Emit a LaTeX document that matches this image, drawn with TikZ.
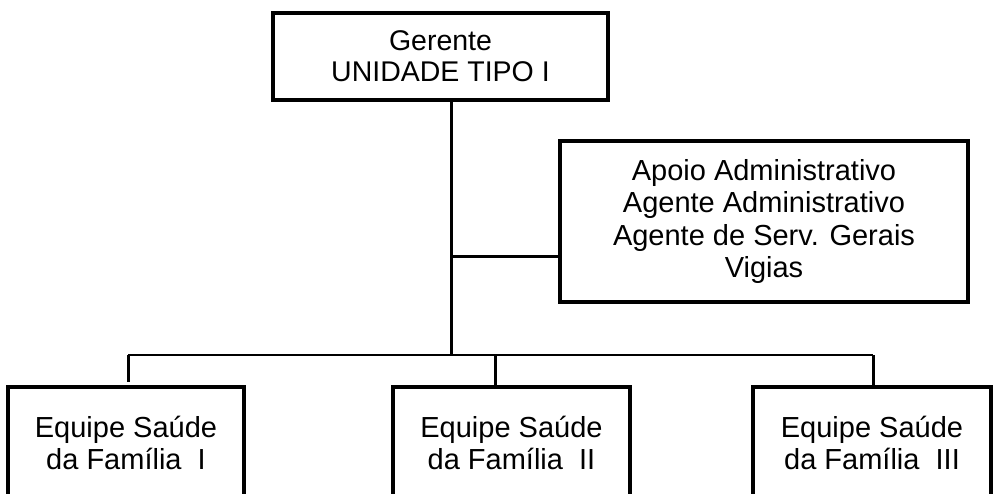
\documentclass[tikz,border=0pt]{standalone}
\usepackage{fontspec}
\setmainfont{Liberation Sans}
\tikzset{
  caixa/.style={draw, line width=4pt, rectangle, align=center, inner sep=0pt,
    font=\fontsize{29}{32.5}\selectfont},
  ligacao/.style={line width=3pt},
  barra/.style={line width=2pt}
}
\begin{document}
\begin{tikzpicture}[x=1pt,y=-1pt]
      \useasboundingbox (0,0) rectangle (993,494);
      \draw
        (440.5,56.5) node[caixa, minimum width=335pt, minimum height=87pt, font=\fontsize{28.5}{31}\selectfont] (gerente){Gerente\\UNIDADE TIPO I}
        (764,221.5) node[caixa, minimum width=408pt, minimum height=161pt] (apoio){Apoio Administrativo\\Agente Administrativo\\Agente de Serv. Gerais\\Vigias}
        (126,443) node[caixa, minimum width=236pt, minimum height=112pt] (esf1){Equipe Saúde\\da Família\ \ I}
        (511.5,443) node[caixa, minimum width=237pt, minimum height=112pt] (esf2){Equipe Saúde\\da Família\ \ II}
        (872,443) node[caixa, minimum width=238pt, minimum height=112pt] (esf3){Equipe Saúde\\da Família\ \ III};
      \coordinate (tronco) at (451,355);
      \coordinate (derivacao) at (451,257);
      \coordinate (p1) at (128,355);
      \coordinate (p2) at (495,355);
      \coordinate (p3) at (873,355);
      \begin{scope}[-]
        \draw[ligacao] (gerente.south -| tronco) to (tronco);
        \draw[ligacao] (derivacao) to (derivacao -| apoio.west);
        \draw[barra] (p1) to (p3);
        \draw[ligacao] (p1) to ([yshift=3pt]p1 |- esf1.north);
        \draw[ligacao] (p2) to (p2 |- esf2.north);
        \draw[ligacao] (p3) to (p3 |- esf3.north);
      \end{scope}
    \end{tikzpicture}
\end{document}
